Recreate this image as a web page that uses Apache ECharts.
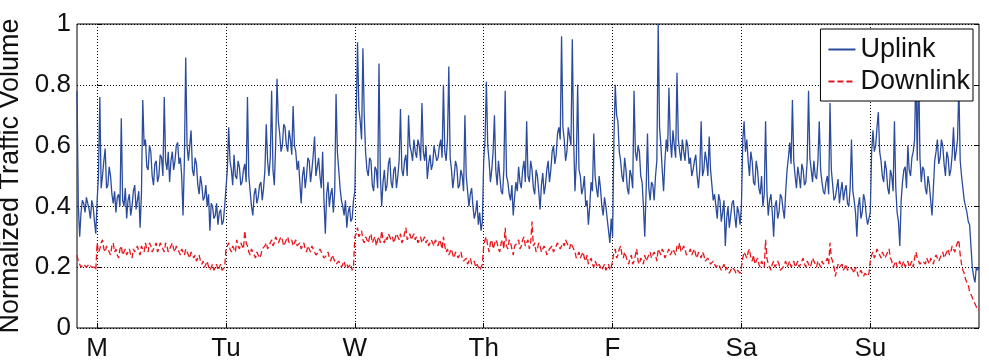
<!DOCTYPE html>
<html><head><meta charset="utf-8">
<script src="https://cdn.jsdelivr.net/npm/echarts@6/dist/echarts.min.js"></script>
<style>html,body{margin:0;padding:0;background:#fff}#c{width:989px;height:364px}</style>
</head><body><div id="c"></div>
<script>
// Time axis in hours, Monday 00:00 = 0
const dayLabels = ['M', 'Tu', 'W', 'Th', 'F', 'Sa', 'Su'];
const dayTicks = [0, 24, 48, 72, 96, 120, 144];
const yTicks = [0, 0.2, 0.4, 0.6, 0.8, 1];
const startHour = -3.75;
const endHour = 164.25;
const stepHours = 0.5;   // main samples every half hour; "B" arrays hold the samples 15 min later

// Uplink (normalized)
const upPre  = [0.78,0.30,0.42,0.38,0.43,0.36,0.40,0.31];
const upPreB = [0.40,0.38,0.41,0.43,0.39,0.42,0.35];
const upMon  = [0.42,0.76,0.50,0.59,0.47,0.50,0.41,0.38,0.44,0.69,0.40,0.36,0.44,0.40,0.47,0.42,0.33,0.75,0.62,0.52,0.58,0.47,0.55,0.50,0.56,0.76,0.52,0.48,0.58,0.55,0.61,0.56,0.37,0.89,0.55,0.65,0.50,0.54,0.44,0.47,0.43,0.40,0.32,0.40,0.37,0.34,0.39,0.35];
const upMonB = [0.50,0.46,0.55,0.46,0.53,0.44,0.45,0.43,0.40,0.42,0.46,0.42,0.37,0.45,0.39,0.45,0.44,0.60,0.53,0.60,0.50,0.54,0.48,0.57,0.50,0.55,0.58,0.55,0.52,0.60,0.54,0.50,0.55,0.60,0.60,0.52,0.56,0.47,0.50,0.42,0.47,0.44,0.41,0.36,0.41,0.38,0.34,0.40];
const upTue  = [0.40,0.66,0.52,0.57,0.49,0.53,0.48,0.54,0.76,0.45,0.37,0.46,0.43,0.48,0.46,0.67,0.50,0.78,0.47,0.82,0.64,0.60,0.66,0.58,0.62,0.73,0.58,0.55,0.41,0.53,0.50,0.55,0.52,0.63,0.53,0.50,0.58,0.31,0.48,0.44,0.38,0.77,0.52,0.42,0.37,0.33,0.40,0.36];
const upTueB = [0.52,0.55,0.47,0.50,0.55,0.47,0.52,0.48,0.50,0.40,0.44,0.41,0.47,0.42,0.52,0.55,0.56,0.52,0.60,0.68,0.58,0.67,0.60,0.65,0.57,0.60,0.52,0.48,0.50,0.46,0.56,0.48,0.57,0.50,0.56,0.46,0.42,0.44,0.40,0.46,0.45,0.58,0.46,0.40,0.42,0.38,0.35,0.42];
const upWed  = [0.45,0.94,0.68,0.92,0.58,0.50,0.55,0.45,0.52,0.87,0.40,0.52,0.47,0.56,0.46,0.53,0.50,0.72,0.50,0.57,0.70,0.58,0.62,0.56,0.60,0.74,0.55,0.49,0.57,0.54,0.60,0.56,0.62,0.80,0.55,0.86,0.52,0.50,0.53,0.47,0.50,0.70,0.45,0.44,0.40,0.38,0.34,0.32];
const upWedB = [0.70,0.72,0.62,0.70,0.52,0.56,0.47,0.53,0.46,0.50,0.48,0.45,0.54,0.48,0.52,0.46,0.55,0.52,0.55,0.50,0.60,0.55,0.58,0.62,0.55,0.58,0.60,0.54,0.52,0.60,0.55,0.60,0.56,0.58,0.62,0.56,0.46,0.55,0.46,0.52,0.45,0.50,0.40,0.46,0.36,0.42,0.38,0.35];
const upThu  = [0.55,0.81,0.55,0.52,0.70,0.47,0.50,0.44,0.78,0.48,0.42,0.37,0.48,0.53,0.46,0.55,0.68,0.48,0.52,0.44,0.50,0.39,0.51,0.47,0.55,0.52,0.60,0.57,0.66,0.96,0.62,0.58,0.63,0.95,0.45,0.80,0.50,0.46,0.40,0.34,0.48,0.64,0.46,0.50,0.40,0.43,0.36,0.28];
const upThuB = [0.62,0.60,0.48,0.58,0.52,0.55,0.45,0.52,0.50,0.44,0.47,0.43,0.45,0.48,0.52,0.48,0.50,0.55,0.46,0.52,0.45,0.47,0.44,0.52,0.48,0.58,0.54,0.64,0.62,0.66,0.55,0.66,0.60,0.62,0.55,0.52,0.44,0.50,0.42,0.40,0.45,0.50,0.43,0.46,0.37,0.40,0.32,0.36];
const upFri  = [0.30,0.80,0.68,0.55,0.48,0.52,0.44,0.50,0.78,0.55,0.58,0.48,0.30,0.64,0.42,0.47,0.50,1.00,0.60,0.45,0.62,0.79,0.56,0.60,0.84,0.58,0.62,0.55,0.60,0.56,0.52,0.57,0.46,0.68,0.52,0.55,0.63,0.47,0.44,0.36,0.42,0.38,0.27,0.40,0.37,0.42,0.33,0.38];
const upFriB = [0.62,0.70,0.58,0.50,0.56,0.46,0.52,0.46,0.58,0.60,0.50,0.40,0.45,0.46,0.48,0.42,0.55,0.66,0.52,0.55,0.58,0.62,0.65,0.56,0.62,0.55,0.58,0.62,0.54,0.50,0.55,0.50,0.52,0.50,0.58,0.50,0.52,0.42,0.40,0.44,0.35,0.42,0.36,0.33,0.41,0.37,0.40,0.34];
const upSat  = [0.40,0.68,0.62,0.50,0.55,0.47,0.52,0.44,0.40,0.68,0.37,0.44,0.30,0.42,0.38,0.43,0.36,0.52,0.61,0.75,0.50,0.53,0.46,0.52,0.48,0.78,0.52,0.55,0.49,0.68,0.48,0.44,0.50,0.74,0.47,0.43,0.49,0.45,0.42,0.47,0.40,0.62,0.42,0.30,0.43,0.38,0.42,0.34];
const upSatB = [0.62,0.58,0.55,0.58,0.48,0.55,0.46,0.50,0.44,0.45,0.42,0.38,0.40,0.36,0.44,0.39,0.45,0.56,0.54,0.55,0.46,0.50,0.54,0.47,0.55,0.56,0.48,0.50,0.55,0.52,0.45,0.48,0.44,0.52,0.42,0.46,0.41,0.48,0.45,0.41,0.46,0.45,0.38,0.40,0.36,0.44,0.37,0.36];
const upSun  = [0.38,0.65,0.60,0.71,0.55,0.48,0.52,0.44,0.50,0.68,0.38,0.27,0.48,0.53,0.60,0.50,0.58,0.86,0.88,0.48,0.52,0.44,0.47,0.37,0.55,0.62,0.56,0.60,0.50,0.56,0.52,0.66,0.58,0.80,0.50,0.42,0.38,0.34,0.20,0.15,0.19];
const upSunB = [0.58,0.58,0.66,0.58,0.50,0.55,0.46,0.52,0.45,0.46,0.35,0.42,0.52,0.46,0.52,0.56,0.62,0.55,0.56,0.53,0.46,0.50,0.42,0.46,0.58,0.54,0.62,0.54,0.58,0.50,0.57,0.55,0.62,0.55,0.46,0.40,0.35,0.27,0.17,0.20,0.20];

// Downlink (normalized)
const dnPre  = [0.24,0.21,0.20,0.21,0.20,0.21,0.20,0.19];
const dnPreB = [0.22,0.20,0.21,0.20,0.21,0.20,0.20];
const dnMon  = [0.28,0.26,0.29,0.25,0.27,0.24,0.28,0.26,0.23,0.27,0.25,0.24,0.26,0.23,0.25,0.27,0.24,0.26,0.28,0.25,0.27,0.26,0.28,0.26,0.27,0.25,0.27,0.26,0.28,0.25,0.26,0.24,0.25,0.26,0.24,0.25,0.23,0.22,0.24,0.21,0.20,0.22,0.19,0.21,0.20,0.19,0.21,0.19];
const dnMonB = [0.25,0.28,0.26,0.27,0.25,0.27,0.25,0.24,0.26,0.24,0.26,0.25,0.24,0.26,0.26,0.25,0.27,0.25,0.26,0.28,0.25,0.27,0.25,0.28,0.26,0.28,0.25,0.27,0.26,0.27,0.25,0.26,0.24,0.25,0.23,0.24,0.24,0.23,0.22,0.22,0.21,0.20,0.20,0.19,0.21,0.20,0.19,0.20];
const dnTue  = [0.26,0.28,0.25,0.27,0.29,0.26,0.28,0.32,0.27,0.24,0.26,0.23,0.25,0.24,0.26,0.28,0.27,0.29,0.28,0.30,0.28,0.29,0.27,0.30,0.28,0.27,0.29,0.27,0.26,0.28,0.25,0.26,0.27,0.25,0.24,0.26,0.24,0.23,0.25,0.22,0.23,0.21,0.22,0.20,0.22,0.21,0.20,0.19];
const dnTueB = [0.27,0.26,0.27,0.25,0.27,0.28,0.26,0.28,0.25,0.26,0.24,0.25,0.23,0.26,0.27,0.26,0.28,0.27,0.30,0.28,0.30,0.27,0.29,0.28,0.29,0.28,0.27,0.28,0.27,0.26,0.27,0.25,0.26,0.24,0.25,0.25,0.23,0.24,0.23,0.24,0.22,0.21,0.21,0.21,0.20,0.20,0.21,0.20];
const dnWed  = [0.30,0.33,0.31,0.29,0.30,0.28,0.31,0.29,0.27,0.30,0.32,0.28,0.29,0.31,0.30,0.28,0.30,0.31,0.29,0.33,0.30,0.29,0.31,0.30,0.29,0.28,0.30,0.29,0.27,0.28,0.29,0.27,0.28,0.30,0.25,0.24,0.26,0.23,0.25,0.24,0.23,0.22,0.21,0.23,0.21,0.20,0.21,0.20];
const dnWedB = [0.31,0.30,0.32,0.28,0.29,0.30,0.28,0.30,0.29,0.28,0.29,0.30,0.31,0.29,0.28,0.31,0.29,0.28,0.31,0.29,0.31,0.30,0.29,0.28,0.30,0.29,0.28,0.27,0.29,0.27,0.28,0.29,0.26,0.27,0.26,0.25,0.24,0.25,0.23,0.25,0.22,0.23,0.22,0.21,0.22,0.21,0.19,0.21];
const dnThu  = [0.27,0.30,0.25,0.29,0.26,0.28,0.25,0.29,0.33,0.26,0.28,0.24,0.27,0.29,0.27,0.30,0.28,0.26,0.35,0.28,0.26,0.27,0.25,0.26,0.24,0.26,0.25,0.27,0.28,0.26,0.27,0.29,0.26,0.27,0.25,0.24,0.23,0.25,0.22,0.21,0.23,0.20,0.22,0.21,0.19,0.21,0.20,0.19];
const dnThuB = [0.29,0.27,0.28,0.26,0.29,0.26,0.28,0.26,0.27,0.29,0.26,0.27,0.28,0.26,0.29,0.27,0.29,0.28,0.27,0.25,0.28,0.25,0.27,0.24,0.26,0.27,0.26,0.28,0.26,0.28,0.29,0.27,0.28,0.26,0.23,0.25,0.24,0.23,0.24,0.22,0.21,0.22,0.20,0.20,0.20,0.19,0.21,0.20];
const dnFri  = [0.22,0.26,0.24,0.27,0.23,0.25,0.21,0.24,0.22,0.26,0.21,0.23,0.24,0.22,0.25,0.23,0.24,0.26,0.24,0.25,0.23,0.26,0.24,0.25,0.27,0.28,0.25,0.26,0.24,0.26,0.25,0.24,0.25,0.23,0.24,0.22,0.23,0.21,0.22,0.20,0.21,0.20,0.19,0.20,0.19,0.20,0.18,0.19];
const dnFriB = [0.25,0.23,0.26,0.24,0.25,0.22,0.23,0.21,0.24,0.22,0.23,0.21,0.22,0.24,0.23,0.25,0.22,0.25,0.26,0.23,0.25,0.24,0.26,0.24,0.26,0.25,0.27,0.24,0.25,0.24,0.26,0.23,0.24,0.25,0.22,0.23,0.21,0.22,0.20,0.21,0.19,0.21,0.20,0.18,0.20,0.19,0.19,0.18];
const dnSat  = [0.20,0.25,0.23,0.26,0.22,0.21,0.23,0.20,0.22,0.29,0.21,0.19,0.22,0.20,0.21,0.19,0.21,0.20,0.22,0.21,0.20,0.22,0.21,0.23,0.20,0.22,0.21,0.22,0.20,0.21,0.22,0.21,0.23,0.28,0.22,0.17,0.21,0.20,0.19,0.21,0.19,0.20,0.18,0.19,0.18,0.19,0.18,0.17];
const dnSatB = [0.23,0.24,0.25,0.23,0.24,0.22,0.21,0.22,0.20,0.23,0.20,0.21,0.20,0.22,0.19,0.20,0.22,0.21,0.20,0.22,0.21,0.20,0.22,0.21,0.22,0.20,0.23,0.21,0.22,0.20,0.21,0.22,0.21,0.23,0.20,0.19,0.20,0.21,0.20,0.19,0.20,0.19,0.20,0.17,0.19,0.17,0.18,0.18];
const dnSun  = [0.22,0.25,0.24,0.26,0.23,0.25,0.24,0.26,0.22,0.21,0.20,0.22,0.21,0.20,0.22,0.21,0.20,0.25,0.22,0.21,0.22,0.23,0.21,0.22,0.23,0.24,0.23,0.25,0.24,0.26,0.25,0.26,0.27,0.29,0.21,0.18,0.15,0.12,0.10,0.08,0.06];
const dnSunB = [0.24,0.23,0.26,0.24,0.25,0.23,0.25,0.23,0.20,0.22,0.21,0.20,0.22,0.21,0.20,0.22,0.23,0.23,0.21,0.22,0.21,0.22,0.23,0.21,0.24,0.22,0.24,0.23,0.25,0.24,0.27,0.25,0.28,0.24,0.19,0.16,0.14,0.11,0.09,0.07,0.06];

function interleave(out, t0, main, between) {
  main.forEach((v, j) => {
    out.push([t0 + j * stepHours, v]);
    if (j < between.length) out.push([t0 + j * stepHours + stepHours / 2, between[j]]);
  });
}
function build(pre, preB, days) {
  const out = [];
  interleave(out, startHour, pre, preB);
  days.forEach((pair, d) => interleave(out, dayTicks[d], pair[0], pair[1]));
  return out;
}
const uplink = build(upPre, upPreB, [[upMon, upMonB], [upTue, upTueB], [upWed, upWedB], [upThu, upThuB], [upFri, upFriB], [upSat, upSatB], [upSun, upSunB]]);
const downlink = build(dnPre, dnPreB, [[dnMon, dnMonB], [dnTue, dnTueB], [dnWed, dnWedB], [dnThu, dnThuB], [dnFri, dnFriB], [dnSat, dnSatB], [dnSun, dnSunB]]);

const FONT = '"Liberation Sans", Arial, sans-serif';
const chart = echarts.init(document.getElementById('c'), null, {renderer: 'canvas'});
chart.setOption({
  animation: false,
  backgroundColor: '#fff',
  grid: {left: 77, top: 24, right: 10, bottom: 36, show: true, borderColor: '#000', borderWidth: 1,
         backgroundColor: 'transparent', containLabel: false, outerBoundsMode: 'none'},
  legend: {
    data: ['Uplink', 'Downlink'], orient: 'vertical', right: 16, top: 29,
    backgroundColor: '#fff', borderColor: '#000', borderWidth: 1, borderRadius: 0,
    padding: [7, 3, 6, 7], itemWidth: 27, itemHeight: 14, itemGap: 5,
    itemStyle: {opacity: 0},
    textStyle: {fontSize: 27, color: '#111', fontFamily: FONT}
  },
  xAxis: {
    type: 'value', min: startHour, max: endHour,
    axisLine: {show: false},
    axisTick: {show: true, inside: true, length: 5, customValues: dayTicks, lineStyle: {color: '#000'}},
    axisLabel: {customValues: dayTicks, formatter: v => dayLabels[dayTicks.indexOf(v)] || '', fontSize: 26, color: '#111', fontFamily: FONT, margin: 8},
    splitLine: {show: true, lineStyle: {type: [1, 2], color: '#000', width: 1}}
  },
  yAxis: [{
    type: 'value', min: 0, max: 1, interval: 0.2,
    name: 'Normalized Traffic Volume', nameLocation: 'middle', nameGap: 47,
    nameTextStyle: {fontSize: 27, color: '#111', fontFamily: FONT},
    axisLine: {show: false},
    axisTick: {show: true, inside: true, length: 5, lineStyle: {color: '#000'}},
    axisLabel: {fontSize: 26, color: '#111', fontFamily: FONT, margin: 6, formatter: v => String(+v.toFixed(1))},
    splitLine: {show: true, lineStyle: {type: [1, 2], color: '#000', width: 1}}
  }, {
    type: 'value', min: 0, max: 1, interval: 0.2, position: 'right',
    axisLine: {show: false}, axisLabel: {show: false}, splitLine: {show: false},
    axisTick: {show: true, inside: true, length: 5, lineStyle: {color: '#000'}}
  }],
  series: [{
    name: 'Uplink', type: 'line', data: uplink, symbol: 'none', yAxisIndex: 0,
    lineStyle: {color: '#2B4B9C', width: 1.3}, itemStyle: {color: '#2B4B9C'}
  }, {
    name: 'Downlink', type: 'line', data: downlink, symbol: 'none', yAxisIndex: 0,
    lineStyle: {color: '#E8161C', width: 1.3, type: [6, 3]}, itemStyle: {color: '#E8161C'}
  }]
});
</script>
</body></html>
